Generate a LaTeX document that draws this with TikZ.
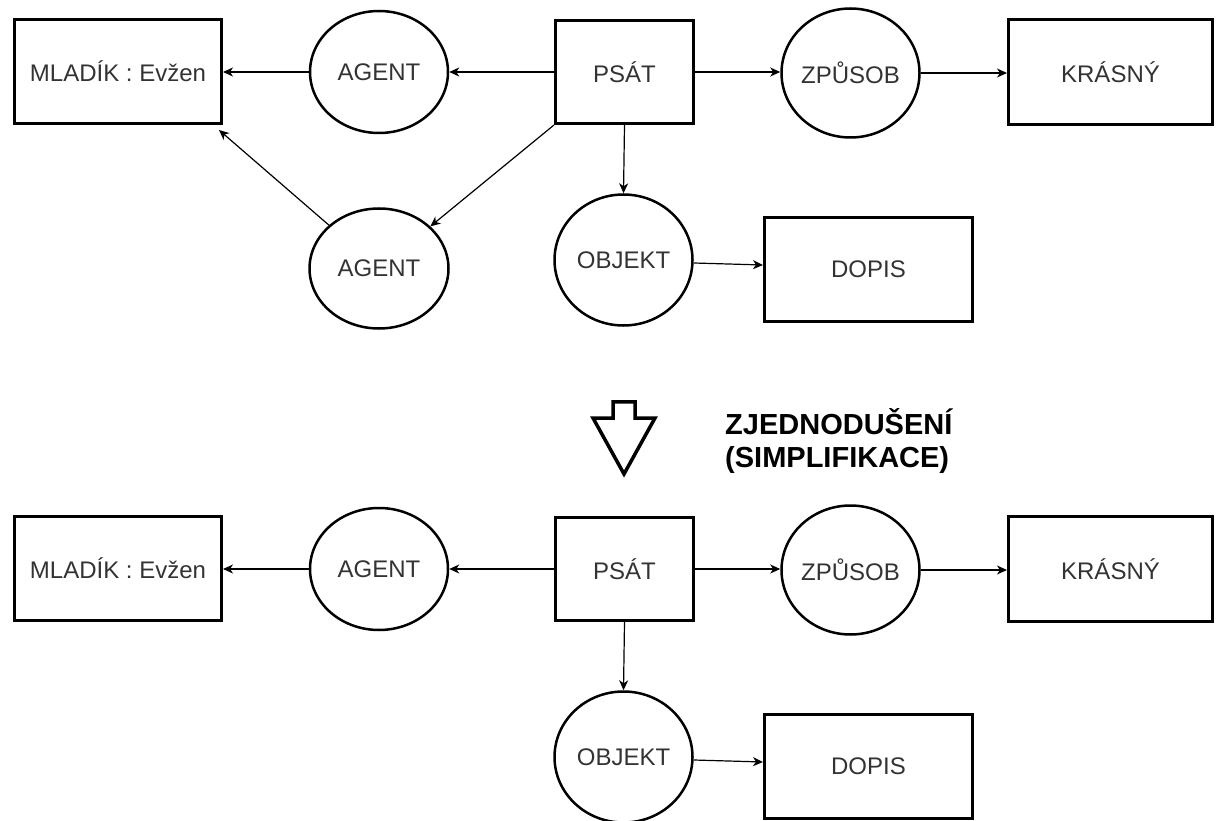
\documentclass[tikz,border=0pt]{standalone}
\usepackage{fontspec}
\setmainfont{Liberation Sans}
\usetikzlibrary{shapes.geometric,arrows.meta}
\definecolor{labelgray}{HTML}{333333}
\begin{document}
\begin{tikzpicture}[x=1pt,y=-1pt,
  concept/.style={draw, line width=3pt, inner sep=0pt, text=labelgray,
    font=\fontsize{24}{28}\selectfont},
  relation/.style={ellipse, draw, line width=2.5pt, inner xsep=-4pt, inner ysep=0pt,
    text=labelgray, font=\fontsize{24}{28}\selectfont},
  link/.style={line width=1.2pt, -{Stealth[length=10pt,width=9pt,inset=3pt]}},
  bigarrow/.style={draw, line width=3.5pt, line join=miter},
  caption/.style={anchor=west, align=left, inner sep=0pt,
    font=\bfseries\fontsize{29}{33}\selectfont},
]
\useasboundingbox (0,0) rectangle (1216,821);

% ---------- full graph ----------
\node[concept,  minimum width=207, minimum height=104] (mlA) at (118,71.5)    {MLADÍK : Evžen};
\node[relation, minimum width=138, minimum height=122] (agA) at (379,72)      {AGENT};
\node[concept,  minimum width=138, minimum height=103] (psA) at (624.5,72)    {PSÁT};
\node[relation, minimum width=138, minimum height=129] (zpA) at (850.5,73)    {ZPŮSOB};
\node[concept,  minimum width=204, minimum height=105] (krA) at (1110.5,72)   {KRÁSNÝ};
\node[relation, minimum width=139, minimum height=120] (agB) at (379,268.5)   {AGENT};
\node[relation, minimum width=138, minimum height=131] (obA) at (623.5,260)   {OBJEKT};
\node[concept,  minimum width=208, minimum height=104] (doA) at (868.5,269.5) {DOPIS};

\draw[link] (agA.west) -- (agA.west -| mlA.east);
\draw[link] (psA.west) -- (psA.west -| agA.east);
\draw[link] (psA.east) -- (psA.east -| zpA.west);
\draw[link] (zpA.east) -- (zpA.east -| krA.west);
\draw[link] (psA.south) -- (obA.north);
\draw[link] (psA.south west) -- (agB);
\draw[link] (agB) -- ([xshift=-4pt,yshift=-5pt]mlA.south east);
\draw[link] ([yshift=-3pt]obA.east) -- ([yshift=4.5pt]doA.west);

% ---------- simplification step ----------
\draw[bigarrow] (613,401.75) -- (635,401.75) -- (635,418) -- (655,418)
  -- (624,474) -- (593,418) -- (613,418) -- cycle;
\node[caption] (step) at (725,441) {ZJEDNODUŠENÍ\\(SIMPLIFIKACE)};

% ---------- simplified graph ----------
\node[concept,  minimum width=207, minimum height=104] (mlB) at (118,568.5)   {MLADÍK : Evžen};
\node[relation, minimum width=138, minimum height=122] (agC) at (379,569)     {AGENT};
\node[concept,  minimum width=138, minimum height=103] (psB) at (624.5,569)   {PSÁT};
\node[relation, minimum width=138, minimum height=129] (zpB) at (850.5,570)   {ZPŮSOB};
\node[concept,  minimum width=204, minimum height=105] (krB) at (1110.5,569)  {KRÁSNÝ};
\node[relation, minimum width=138, minimum height=131] (obB) at (623.5,757)   {OBJEKT};
\node[concept,  minimum width=208, minimum height=104] (doB) at (868.5,766.5) {DOPIS};

\draw[link] (agC.west) -- (agC.west -| mlB.east);
\draw[link] (psB.west) -- (psB.west -| agC.east);
\draw[link] (psB.east) -- (psB.east -| zpB.west);
\draw[link] (zpB.east) -- (zpB.east -| krB.west);
\draw[link] (psB.south) -- (obB.north);
\draw[link] ([yshift=-3pt]obB.east) -- ([yshift=4.5pt]doB.west);
\end{tikzpicture}
\end{document}
